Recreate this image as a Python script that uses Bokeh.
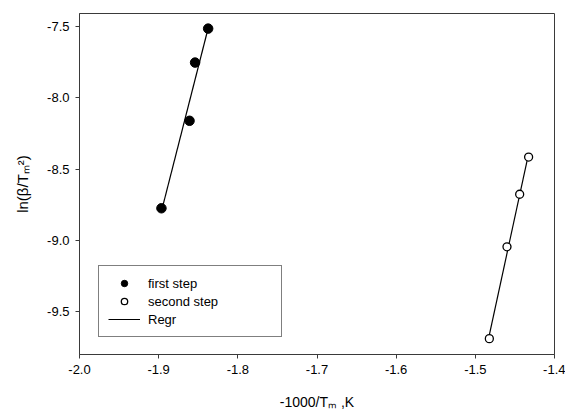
import numpy as np
from bokeh.plotting import figure
from bokeh.models import Legend, LegendItem, FixedTicker, Range1d
from bokeh.embed import file_html
from bokeh.resources import INLINE

# ---- data ----
first_x = [-1.8965, -1.8610, -1.8540, -1.8375]
first_y = [-8.775, -8.162, -7.754, -7.516]
second_x = [-1.4823, -1.4600, -1.4440, -1.4327]
second_y = [-9.689, -9.045, -8.677, -8.416]

series_labels = ["first step", "second step", "Regr"]

x_ticks = [-2.0, -1.9, -1.8, -1.7, -1.6, -1.5, -1.4]
x_tick_labels = ["-2.0", "-1.9", "-1.8", "-1.7", "-1.6", "-1.5", "-1.4"]
y_ticks = [-9.5, -9.0, -8.5, -8.0, -7.5]
y_tick_labels = ["-9.5", "-9.0", "-8.5", "-8.0", "-7.5"]

x_title = "-1000/T\u2098 ,K"
y_title = "ln(\u03b2/T\u2098\u00b2)"

x_range = (-2.0, -1.4)
y_range = (-9.8, -7.41)

FONT = "Liberation Sans"
AX = "#3a3a3a"

p = figure(width=565, height=412, output_backend="svg", toolbar_location=None,
           x_range=Range1d(*x_range), y_range=Range1d(*y_range),
           min_border_left=79, min_border_right=11, min_border_top=13, min_border_bottom=57)
p.background_fill_color = "white"
p.border_fill_color = "white"
p.outline_line_color = AX
p.outline_line_width = 1
p.xgrid.visible = False
p.ygrid.visible = False

for ax, ticks, labels in ((p.xaxis[0], x_ticks, x_tick_labels), (p.yaxis[0], y_ticks, y_tick_labels)):
    ax.ticker = FixedTicker(ticks=ticks)
    ax.major_label_overrides = {t: l for t, l in zip(ticks, labels)}
    ax.axis_line_color = AX
    ax.major_tick_line_color = AX
    ax.major_tick_in = 0
    ax.major_tick_out = 4
    ax.minor_tick_line_color = None
    ax.major_label_text_font = FONT
    ax.major_label_text_font_size = "13px"
    ax.major_label_text_color = "black"
    ax.major_label_standoff = 6
    ax.axis_label_text_font = FONT
    ax.axis_label_text_font_style = "normal"
    ax.axis_label_text_color = "black"

p.xaxis[0].axis_label = x_title
p.xaxis[0].axis_label_text_font_size = "14px"
p.xaxis[0].axis_label_standoff = 17
p.yaxis[0].axis_label = y_title
p.yaxis[0].axis_label_text_font_size = "15px"
p.yaxis[0].axis_label_standoff = 13

# regression lines
def fit(xs, ys):
    k, b = np.polyfit(xs, ys, 1)
    xx = np.array([min(xs), max(xs)])
    return xx, k * xx + b

fx, fy = fit(first_x, first_y)
sx, sy = fit(second_x, second_y)
r_reg1 = p.line(fx, fy, line_color="black", line_width=1.2)
r_reg2 = p.line(sx, sy, line_color="black", line_width=1.2)

r1 = p.scatter(first_x, first_y, size=9.5, fill_color="black", line_color="black", line_width=1)
r2 = p.scatter(second_x, second_y, size=8, fill_color="white", line_color="black", line_width=1.3)

legend = Legend(items=[LegendItem(label=series_labels[0], renderers=[r1]),
                       LegendItem(label=series_labels[1], renderers=[r2]),
                       LegendItem(label=series_labels[2], renderers=[r_reg1])],
                location=(19, 17), margin=0, padding=9, spacing=2,
                glyph_height=16, glyph_width=32, label_height=16, label_width=124,
                label_standoff=8, label_text_font=FONT, label_text_font_size="13px",
                label_text_color="black", border_line_color="black", border_line_width=1,
                background_fill_color="white", background_fill_alpha=1)
p.add_layout(legend)

open("out.html", "w").write(file_html(p, INLINE))
